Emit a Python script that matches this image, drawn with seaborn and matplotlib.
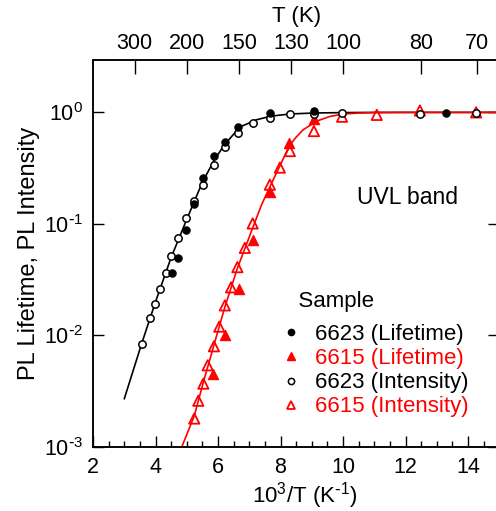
import matplotlib
matplotlib.use("Agg")
import matplotlib.pyplot as plt
import seaborn as sns
import pandas as pd
import numpy as np
from matplotlib.lines import Line2D
from matplotlib.ticker import MultipleLocator, LogLocator, NullFormatter, FuncFormatter

# ---- data ----
black_life_x = [4.52, 4.73, 4.98, 5.24, 5.53, 5.87, 6.22, 6.65, 7.66, 9.07, 13.3]
black_life_y = [0.036, 0.049, 0.088, 0.150, 0.256, 0.404, 0.54, 0.738, 0.985, 1.02, 0.99]

black_int_x = [3.56, 3.82, 3.99, 4.14, 4.34, 4.51, 4.73, 4.98, 5.23, 5.53, 5.87, 6.22,
               6.65, 7.11, 7.66, 8.30, 9.07, 9.97, 12.46, 14.26]
black_int_y = [0.0084, 0.0143, 0.019, 0.026, 0.036, 0.052, 0.075, 0.113, 0.161, 0.223,
               0.338, 0.487, 0.656, 0.80, 0.895, 0.96, 0.97, 0.985, 0.97, 0.99]

red_life_x = [5.85, 6.22, 6.68, 7.11, 7.66, 8.28, 9.07]
red_life_y = [0.0045, 0.0100, 0.026, 0.072, 0.195, 0.53, 0.87]

red_int_x = [5.24, 5.37, 5.53, 5.67, 5.87, 6.04, 6.22, 6.42, 6.62, 6.86, 7.11, 7.66,
             7.98, 8.30, 9.07, 9.97, 11.08, 12.46, 14.26]
red_int_y = [0.0018, 0.0026, 0.0037, 0.0054, 0.0080, 0.012, 0.0186, 0.027, 0.041, 0.061,
             0.101, 0.225, 0.32, 0.45, 0.68, 0.915, 0.95, 1.04, 1.0]

# fit curves
black_fit_x = [3.0, 3.56, 4.0, 4.5, 5.0, 5.5, 5.87, 6.2, 6.7, 7.24, 7.69, 8.3, 9.1, 10.0, 11.0, 14.9]
black_fit_y = [0.0027, 0.0085, 0.020, 0.050, 0.11, 0.236, 0.37, 0.51, 0.74, 0.86, 0.925,
               0.968, 0.988, 0.996, 1.0, 1.0]
red_fit_x = [4.84, 5.24, 5.53, 5.87, 6.22, 6.62, 7.11, 7.4, 7.77, 8.0, 8.28, 8.5, 8.73,
             9.16, 9.58, 10.0, 10.45, 11.0, 12.0, 14.9]
red_fit_y = [0.001, 0.0019, 0.0038, 0.0082, 0.018, 0.040, 0.092, 0.15, 0.25, 0.34, 0.50,
             0.60, 0.70, 0.835, 0.92, 0.965, 0.985, 0.995, 1.0, 1.0]

top_T = [300, 200, 150, 120, 100, 80, 70]
top_labels = ["300", "200", "150", "130", "100", "80", "70"]

legend_labels = ["6623 (Lifetime)", "6615 (Lifetime)", "6623 (Intensity)", "6615 (Intensity)"]

# ---- style ----
sns.set_style("ticks")
plt.rcParams["font.family"] = ["Liberation Sans", "DejaVu Sans"]
plt.rcParams["mathtext.default"] = "regular"
plt.rcParams["axes.unicode_minus"] = False
plt.rcParams["axes.linewidth"] = 1.1
plt.rcParams["axes.edgecolor"] = "black"
plt.rcParams["text.color"] = "black"
plt.rcParams["axes.labelcolor"] = "black"
plt.rcParams["xtick.color"] = "black"
plt.rcParams["ytick.color"] = "black"

fig = plt.figure(figsize=(4.96, 5.11), dpi=100)
ax = fig.add_axes([93/496, 1-447/511, 406.25/496, 387/511])

bf = pd.DataFrame({"x": black_fit_x, "y": black_fit_y})
rf = pd.DataFrame({"x": red_fit_x, "y": red_fit_y})
sns.lineplot(data=bf, x="x", y="y", color="black", lw=1.2, sort=False, estimator=None, ax=ax)
sns.lineplot(data=rf, x="x", y="y", color="red", lw=1.2, sort=False, estimator=None, ax=ax)

ri = pd.DataFrame({"x": red_int_x, "y": red_int_y})
rl = pd.DataFrame({"x": red_life_x, "y": red_life_y})
bi = pd.DataFrame({"x": black_int_x, "y": black_int_y})
bl = pd.DataFrame({"x": black_life_x, "y": black_life_y})

sns.scatterplot(data=ri, x="x", y="y", marker="^", s=55, facecolor="none",
                edgecolor="red", linewidth=1.3, ax=ax, zorder=3)
sns.scatterplot(data=rl, x="x", y="y", marker="^", s=55, color="red",
                edgecolor="red", linewidth=0.8, ax=ax, zorder=3)
sns.scatterplot(data=bi, x="x", y="y", marker="o", s=28, facecolor="white",
                edgecolor="black", linewidth=1.1, ax=ax, zorder=4)
sns.scatterplot(data=bl, x="x", y="y", marker="o", s=28, color="black",
                edgecolor="black", linewidth=0.8, ax=ax, zorder=4)

ax.set_yscale("log")
ax.set_xlim(2, 15)
ax.set_ylim(1e-3, 2.95)


def pow_fmt(v, pos):
    e = int(round(np.log10(v)))
    s = str(e).replace("-", r"\text{-}")
    return "10$^{" + s + "}$"


ax.xaxis.set_major_locator(MultipleLocator(2))
ax.xaxis.set_minor_locator(MultipleLocator(0.5))
ax.yaxis.set_major_locator(LogLocator(base=10, numticks=10))
ax.yaxis.set_major_formatter(FuncFormatter(pow_fmt))
ax.yaxis.set_minor_locator(LogLocator(base=10, subs=np.arange(2, 10), numticks=10))
ax.yaxis.set_minor_formatter(NullFormatter())

ax.tick_params(axis="both", which="major", direction="in", length=8, width=1.0,
               labelsize=15.5, pad=7)
ax.tick_params(axis="both", which="minor", direction="in", length=4.5, width=1.0)
ax.tick_params(axis="y", which="both", left=True, right=True)
ax.tick_params(axis="x", which="both", top=False, bottom=True)

ax.set_xlabel(r"10$^3$/T (K$^{\text{-}1}$)", fontsize=16)
ax.set_ylabel("PL Lifetime, PL Intensity", fontsize=17)
ax.xaxis.set_label_coords(0.522, -0.085)
ax.yaxis.set_label_coords(-0.13, 0.5)

for s in ax.spines.values():
    s.set_visible(True)
    s.set_linewidth(1.1)
    s.set_color("black")

# top axis: temperature
ax2 = ax.twiny()
ax2.set_xlim(ax.get_xlim())
ax2.set_xticks([1000.0 / t for t in top_T])
ax2.set_xticklabels(top_labels)
ax2.tick_params(axis="x", which="major", direction="in", length=10, width=1.0,
                labelsize=15.5, pad=4)
ax2.minorticks_off()
ax2.set_xlabel("T (K)", fontsize=16, labelpad=8)

ax.text(10.45, 0.171, "UVL band", fontsize=16.5, va="center", ha="left")

handles = [
    Line2D([], [], ls="none", marker="o", ms=4.5, mfc="black", mec="black"),
    Line2D([], [], ls="none", marker="^", ms=6.0, mfc="red", mec="red"),
    Line2D([], [], ls="none", marker="o", ms=4.5, mfc="white", mec="black", mew=1.1),
    Line2D([], [], ls="none", marker="^", ms=6.0, mfc="none", mec="red", mew=1.3),
]
leg = ax.legend(handles, legend_labels, title="   Sample", frameon=False, fontsize=16,
                title_fontsize=16, loc="upper left",
                bbox_to_anchor=(264/496, 1-275/511), bbox_transform=fig.transFigure,
                handlelength=1.0, handletextpad=0.6, labelspacing=0.14,
                borderpad=0.2, alignment="left")
leg._legend_box.sep = 9
for t, c in zip(leg.get_texts(), ["black", "red", "black", "red"]):
    t.set_color(c)

fig.savefig("out.png", dpi=100)
